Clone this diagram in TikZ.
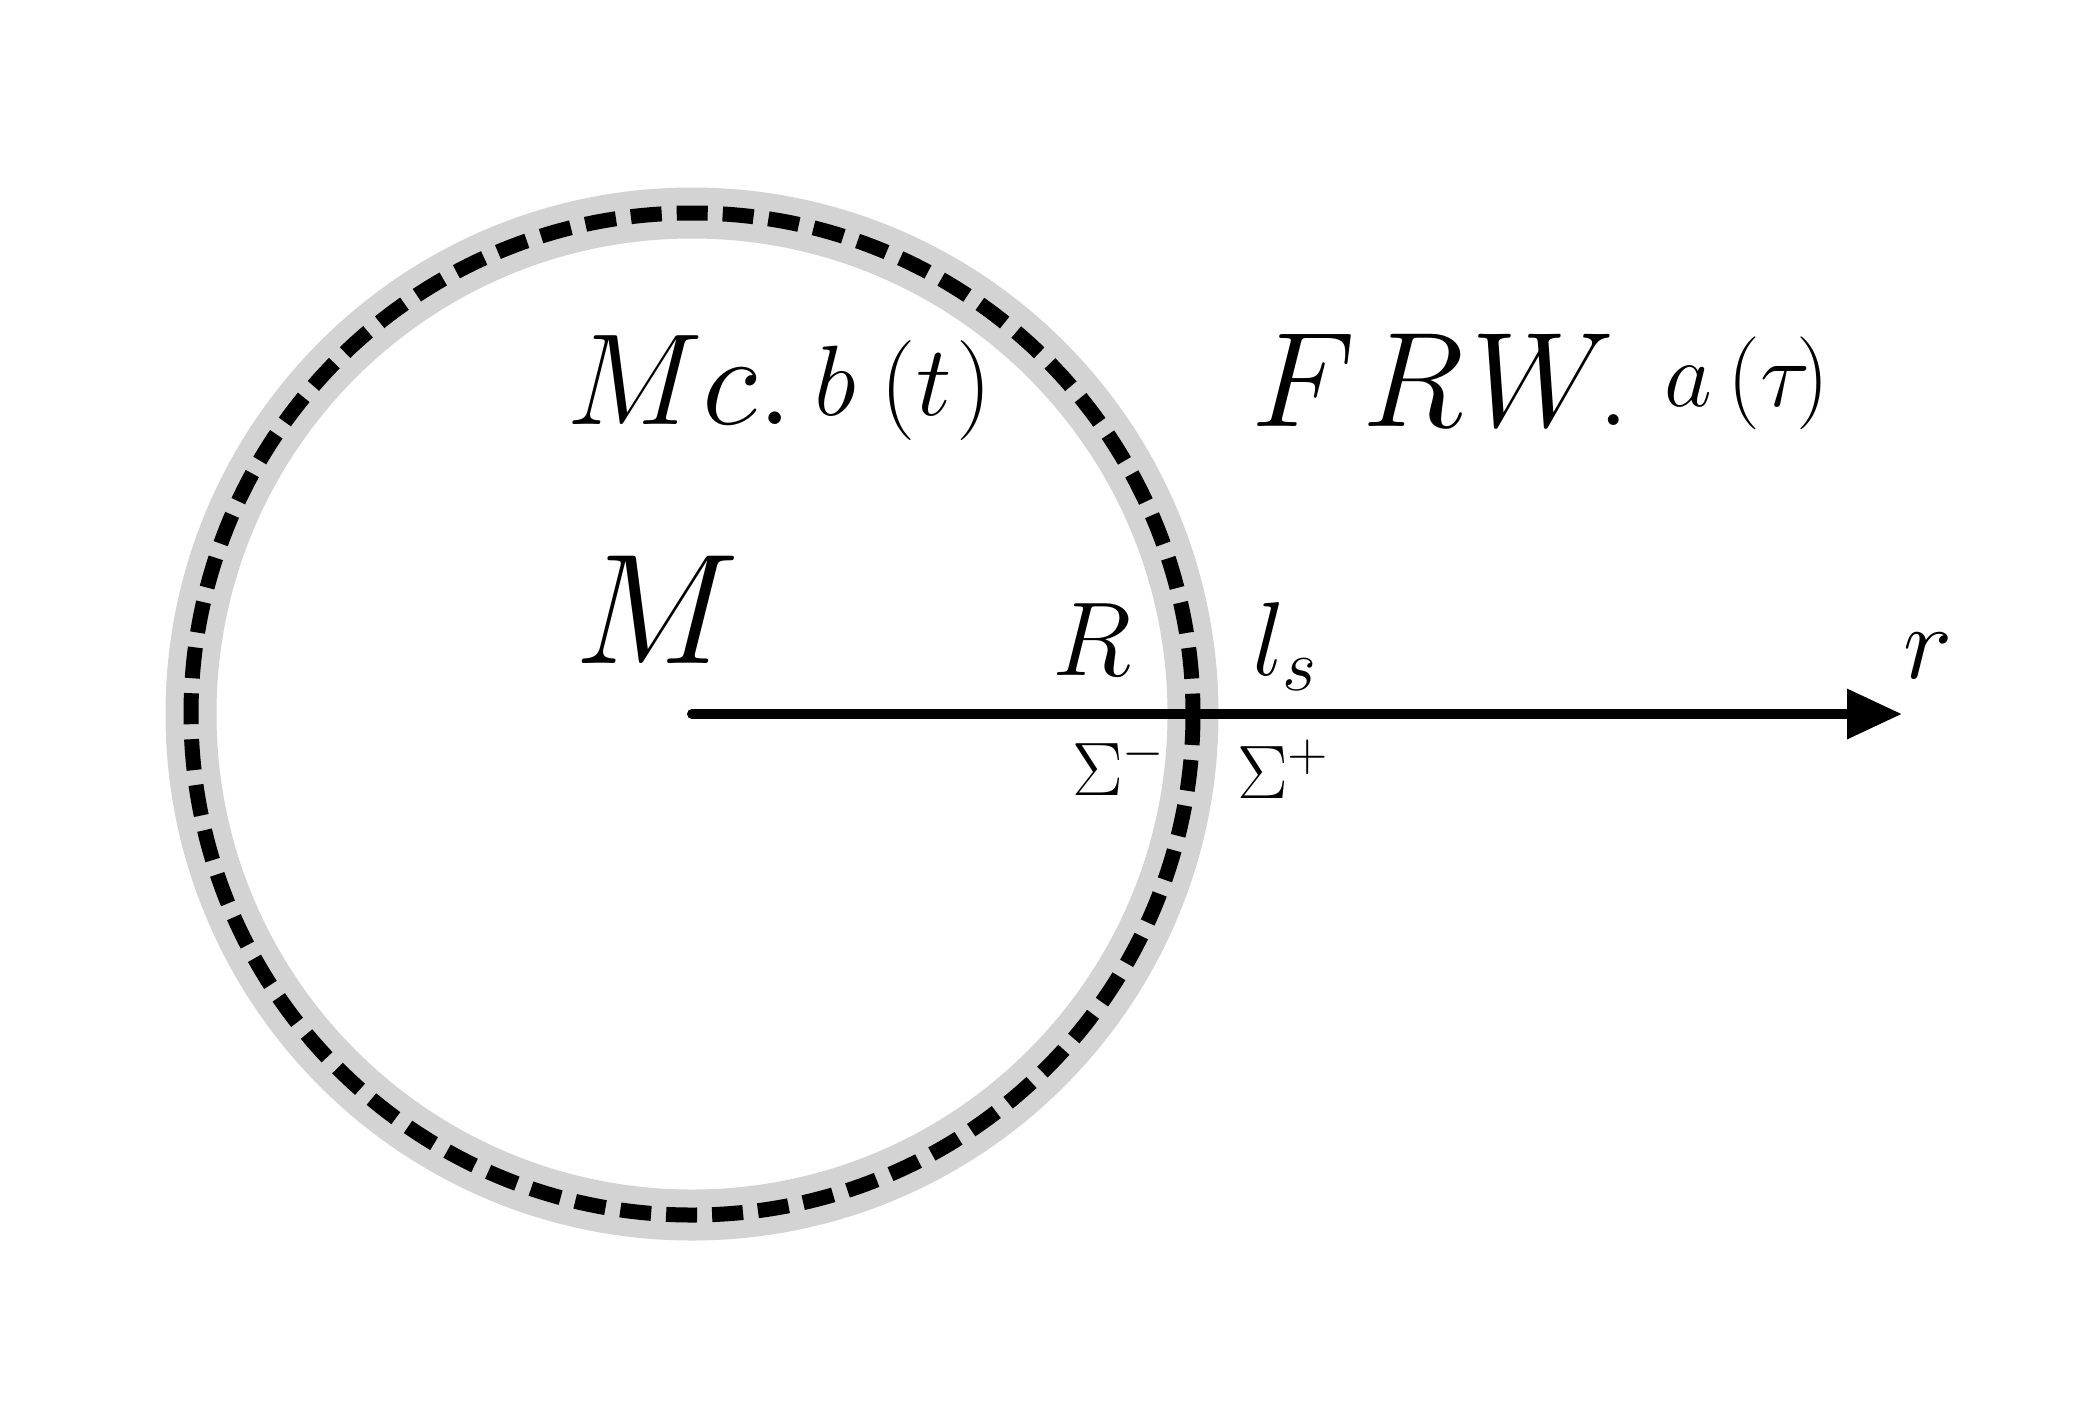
\documentclass[tikz,border=0pt]{standalone}
\usepackage{fix-cm}
\usetikzlibrary{arrows.meta}
\definecolor{ringgray}{RGB}{211,211,211}
\tikzset{
  lbl/.style={anchor=base west, inner sep=0pt, outer sep=0pt},
  big/.style={font=\fontsize{37.7}{40}\selectfont},
  large/.style={font=\fontsize{31.2}{34}\selectfont},
  xlarge/.style={font=\fontsize{32.4}{35}\selectfont},
  mid/.style={font=\fontsize{25.2}{28}\selectfont},
  dotsz/.style={font=\fontsize{27}{30}\selectfont},
  small/.style={font=\fontsize{24}{27}\selectfont},
  smaller/.style={font=\fontsize{22.3}{25}\selectfont},
  tiny/.style={font=\fontsize{18.2}{20}\selectfont},
  ring/.style={draw=ringgray, line width=12.24pt},
  shell/.style={draw=black, line width=3.6pt, dash pattern=on 7.44pt off 3.6pt},
  axis/.style={draw=black, line width=2.4pt, line cap=round, -{Triangle[length=13.2pt,width=11.5pt]}}
}
\begin{document}
\begin{tikzpicture}[x=0.24pt, y=-0.24pt]
\useasboundingbox (0,0) rectangle (2079,1406);
\coordinate (O) at (692,714);
\coordinate (tip) at (1902,714);
\draw[ring] (O) circle[radius=501];
\draw[shell] (O) circle[radius=501];
\draw[axis] (O) -- (tip);
\node[lbl, large] (Mc) at (566,424) {$Mc.$};
\node[lbl, small] (bt) at (814,415) {$b\mkern4.5mu(t\mkern1mu)$};
\node[lbl, xlarge] (FRW) at (1251,426) {$F\mkern1muR\mkern1muW$};
\node[lbl, dotsz] (dot) at (1598,425) {$.$};
\node[lbl, smaller] (at) at (1664,406) {$a\mkern3mu(\tau\mkern-2.7mu)$};
\node[lbl, big] (M) at (574,663) {$M$};
\node[lbl, mid] (R) at (1052,675) {$R$};
\node[lbl, mid] (ls) at (1252,675) {$l_s$};
\node[lbl, tiny] (Sm) at (1072,795) {$\Sigma^-$};
\node[lbl, tiny] (Sp) at (1237,798) {$\Sigma^+$};
\node[lbl, mid] (r) at (1903,678) {$r$};
\end{tikzpicture}
\end{document}
